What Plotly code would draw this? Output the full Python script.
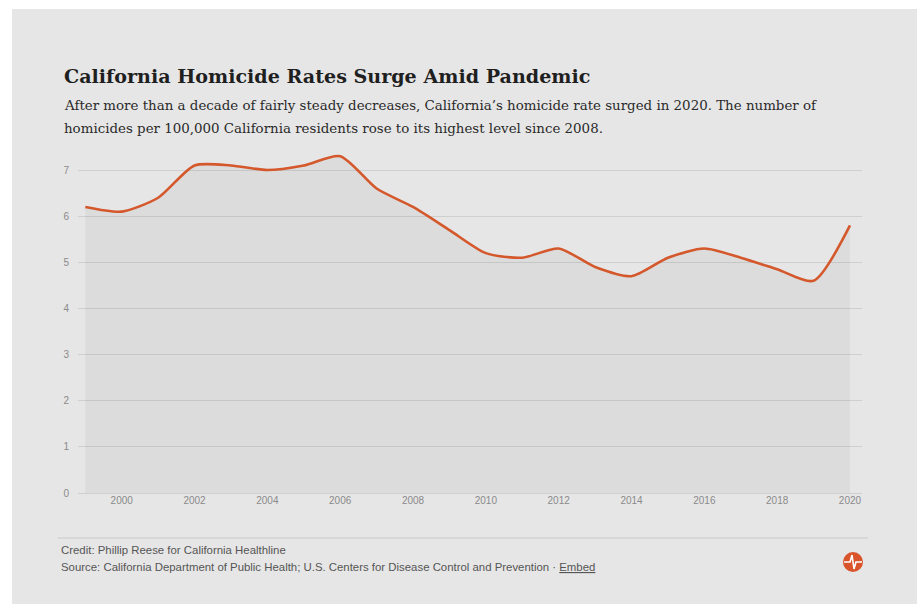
import plotly.graph_objects as go

# Homicides per 100,000 California residents
years = list(range(1999, 2021))
rates = [6.2, 6.1, 6.4, 7.1, 7.1, 7.0, 7.1, 7.3, 6.6, 6.2, 5.7, 5.2,
         5.1, 5.3, 4.9, 4.7, 5.1, 5.3, 5.1, 4.85, 4.6, 5.8]

x_ticks = list(range(2000, 2021, 2))
y_ticks = list(range(0, 8))

title = "California Homicide Rates Surge Amid Pandemic"
subtitle_1 = ("After more than a decade of fairly steady decreases, California\u2019s "
              "homicide rate surged in 2020. The number of")
subtitle_2 = ("homicides per 100,000 California residents rose to its highest "
              "level since 2008.")
credit = "Credit: Phillip Reese for California Healthline"
source = ("Source: California Department of Public Health; U.S. Centers for "
          "Disease Control and Prevention \u00b7 <u>Embed</u>")

W, H = 917, 604
L, R, T, B = 78, 862, 147, 493  # plot area in pixels


def px(x):
    return (x - L) / (R - L)


def py(y):
    return (B - y) / (B - T)


BG = "#e6e6e6"
LINE = "#d4582b"
GRID = "#cfcfcf"
SERIF = "DejaVu Serif, serif"
SANS = "Liberation Sans, Arial, sans-serif"

fig = go.Figure()
fig.add_trace(go.Scatter(
    x=years, y=rates, mode="lines",
    line=dict(color=LINE, width=2.6, shape="spline", smoothing=0.7),
    fill="tozeroy", fillcolor="rgba(0,0,0,0.045)",
    hoverinfo="x+y", showlegend=False,
))

shapes = [
    # panel background
    dict(type="rect", xref="paper", yref="paper",
         x0=px(12), x1=px(W + 5), y0=py(H + 5), y1=py(9),
         fillcolor=BG, line=dict(width=0), layer="below"),
    # footer rule
    dict(type="line", xref="paper", yref="paper",
         x0=px(58), x1=px(868), y0=py(538), y1=py(538),
         line=dict(color="#c9c9c9", width=1)),
    # logo disc
    dict(type="circle", xref="paper", yref="paper",
         x0=px(843), x1=px(863), y0=py(572), y1=py(552),
         fillcolor="#d9542a", line=dict(width=0)),
    # logo mark
    dict(type="path", xref="paper", yref="paper",
         path=(f"M {px(844)},{py(562)} L {px(850)},{py(562)} "
               f"L {px(852)},{py(555)} L {px(854)},{py(569)} "
               f"L {px(856)},{py(562)} L {px(862)},{py(562)}"),
         line=dict(color="white", width=1.6)),
]

ann = [
    dict(text=f"<b>{title}</b>", x=px(62), y=py(76), xanchor="left", yanchor="middle",
         font=dict(family=SERIF, size=19.1, color="#1f1f1f")),
    dict(text=subtitle_1, x=px(62), y=py(105), xanchor="left", yanchor="middle",
         font=dict(family=SERIF, size=13.4, color="#2a2a2a")),
    dict(text=subtitle_2, x=px(62), y=py(128), xanchor="left", yanchor="middle",
         font=dict(family=SERIF, size=13.4, color="#2a2a2a")),
    dict(text=credit, x=px(59), y=py(550), xanchor="left", yanchor="middle",
         font=dict(family=SANS, size=11.4, color="#555")),
    dict(text=source, x=px(59), y=py(567), xanchor="left", yanchor="middle",
         font=dict(family=SANS, size=11.4, color="#555")),
]
for a in ann:
    a.update(xref="paper", yref="paper", showarrow=False, align="left")

fig.update_layout(
    width=W, height=H,
    margin=dict(l=L, r=W - R, t=T, b=H - B, autoexpand=False),
    paper_bgcolor="white", plot_bgcolor="rgba(0,0,0,0)",
    shapes=shapes, annotations=ann,
    xaxis=dict(range=[1998.8, 2020.33], tickvals=x_ticks, showgrid=False,
               zeroline=False, showline=False, ticks="",
               tickfont=dict(family=SANS, size=10, color="#8a8a8a")),
    yaxis=dict(range=[0, 7.5], tickvals=y_ticks, showgrid=True, gridcolor=GRID,
               gridwidth=1.2, zeroline=True, zerolinecolor=GRID, zerolinewidth=1.2,
               showline=False, ticks="outside", ticklen=6, tickcolor="rgba(0,0,0,0)",
               tickfont=dict(family=SANS, size=10, color="#8a8a8a")),
)

fig.write_html("out.html")
